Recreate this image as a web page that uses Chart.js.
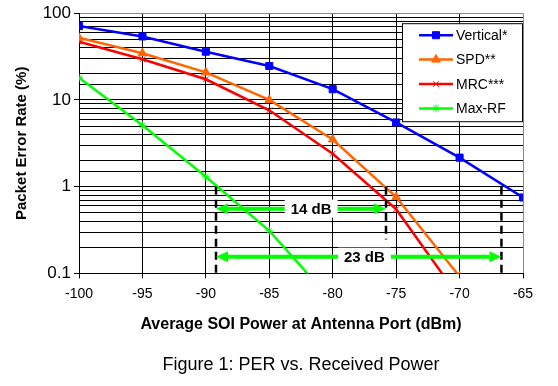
<!DOCTYPE html>
<html>
<head>
<meta charset="utf-8">
<script src="https://cdn.jsdelivr.net/npm/chart.js@4"></script>
<style>
  html, body { margin: 0; padding: 0; background: #fff; }
  #wrap { width: 558px; height: 386px; }
</style>
</head>
<body>
<div id="wrap"><canvas id="perChart" width="558" height="386"></canvas></div>
<script>
// x values (dBm) and PER (%) per receiver type
const powerDbm = [-100, -95, -90, -85, -80, -75, -70, -65];
const verticalPer = [71, 54, 36, 24.6, 13.3, 5.5, 2.16, 0.75];
const spdPer = [52, 34.5, 20.8, 10, 3.5, 0.76, 0.092, null];
const mrcPer = [46.8, 29.4, 17.3, 7.6, 2.4, 0.55, 0.052, null];
const maxRfPer = [18, 5.1, 1.3, 0.31, 0.047, null, null, null];

const seriesNames = ['Vertical*', 'SPD**', 'MRC***', 'Max-RF'];
const seriesColors = ['#0000ff', '#ff6600', '#ff0000', '#00ff00'];
const seriesMarkers = ['rect', 'triangle', 'crossRot', 'star'];
const markerRadius = [5, 5, 4, 4];

// dashed markers + gain arrows
const markerDbm = [-89.2, -75.8, -66.7];
const markerTop = [1, 1, 1];
const markerBottom = [0.1, 0.246, 0.1];
const gapLabels = ['14 dB', '23 dB'];
const gapFrom = [-89.2, -89.2];
const gapTo = [-75.8, -66.7];
const gapLevel = [0.557, 0.156];
const gapLabelAt = [-81.7, -77.5];

const FONT = 'Arial, "Liberation Sans", sans-serif';

function toPoints(values) {
  return powerDbm.map((x, i) => ({ x: x, y: values[i] })).filter(p => p.y !== null);
}

const allSeries = [verticalPer, spdPer, mrcPer, maxRfPer];

const datasets = allSeries.map((vals, idx) => ({
  label: seriesNames[idx],
  data: toPoints(vals),
  borderColor: seriesColors[idx],
  backgroundColor: seriesColors[idx],
  borderWidth: 2.5,
  pointStyle: seriesMarkers[idx],
  pointRadius: markerRadius[idx],
  pointBorderWidth: 1,
  tension: 0,
  fill: false
}));

function isDecade(v) {
  const l = Math.log10(v);
  return Math.abs(l - Math.round(l)) < 1e-6;
}

// --- dashed lines, arrows, labels ---
const gainMarks = {
  id: 'gainMarks',
  afterDatasetsDraw(chart) {
    const ctx = chart.ctx;
    const xs = chart.scales.x, ys = chart.scales.y;
    ctx.save();
    ctx.strokeStyle = '#000';
    ctx.lineWidth = 2.5;
    ctx.setLineDash([8, 5]);
    markerDbm.forEach((d, i) => {
      ctx.beginPath();
      ctx.moveTo(xs.getPixelForValue(d), ys.getPixelForValue(markerTop[i]));
      ctx.lineTo(xs.getPixelForValue(d), ys.getPixelForValue(markerBottom[i]));
      ctx.stroke();
    });
    ctx.setLineDash([]);

    gapLabels.forEach((label, i) => {
      const x0 = xs.getPixelForValue(gapFrom[i]);
      const x1 = xs.getPixelForValue(gapTo[i]);
      const y = ys.getPixelForValue(gapLevel[i]);
      const head = 12, half = 5.5;
      ctx.strokeStyle = '#00ff00';
      ctx.fillStyle = '#00ff00';
      ctx.lineWidth = 4;
      ctx.beginPath();
      ctx.moveTo(x0 + head, y);
      ctx.lineTo(x1 - head, y);
      ctx.stroke();
      ctx.beginPath();
      ctx.moveTo(x0, y); ctx.lineTo(x0 + head, y - half); ctx.lineTo(x0 + head, y + half);
      ctx.closePath(); ctx.fill();
      ctx.beginPath();
      ctx.moveTo(x1, y); ctx.lineTo(x1 - head, y - half); ctx.lineTo(x1 - head, y + half);
      ctx.closePath(); ctx.fill();

      ctx.font = 'bold 15px ' + FONT;
      const cx = xs.getPixelForValue(gapLabelAt[i]);
      const w = ctx.measureText(label).width + 12;
      ctx.fillStyle = '#fff';
      ctx.fillRect(cx - w / 2, y - 9, w, 18);
      ctx.fillStyle = '#000';
      ctx.textAlign = 'center';
      ctx.textBaseline = 'middle';
      ctx.fillText(label, cx, y + 1);
    });
    ctx.restore();
  },
  // --- boxed legend in the top right corner ---
  afterDraw(chart) {
    const ctx = chart.ctx;
    const area = chart.chartArea;
    const right = area.right, left = right - 121;
    const top = area.top + 10, h = 99;
    ctx.save();
    ctx.fillStyle = '#fff';
    ctx.fillRect(left, top, right - left, h);
    ctx.strokeStyle = '#000';
    ctx.lineWidth = 1;
    ctx.strokeRect(left + 0.5, top + 0.5, right - left - 1, h - 1);
    chart.data.datasets.forEach((ds, i) => {
      const y = top + 12 + i * 24.4;
      ctx.strokeStyle = ds.borderColor;
      ctx.fillStyle = ds.backgroundColor;
      ctx.lineWidth = 2.5;
      ctx.beginPath();
      ctx.moveTo(left + 17, y);
      ctx.lineTo(left + 51, y);
      ctx.stroke();
      ctx.lineWidth = 1;
      Chart.helpers.drawPoint(ctx, {
        pointStyle: ds.pointStyle, radius: ds.pointRadius, rotation: 0, borderWidth: 1
      }, left + 34, y);
      ctx.fillStyle = '#000';
      ctx.font = '14px ' + FONT;
      ctx.textAlign = 'left';
      ctx.textBaseline = 'middle';
      ctx.fillText(ds.label, left + 54, y + 1);
    });
    ctx.restore();
  }
};

new Chart(document.getElementById('perChart'), {
  type: 'line',
  data: { datasets: datasets },
  plugins: [gainMarks],
  options: {
    responsive: false,
    animation: false,
    layout: { padding: { left: 0, top: 13, right: 35, bottom: 0 } },
    plugins: {
      legend: { display: false },
      tooltip: { enabled: false },
      title: {
        display: true,
        position: 'bottom',
        fullSize: false,
        text: 'Figure 1: PER vs. Received Power',
        color: '#000',
        font: { family: FONT, size: 18, weight: 'normal', lineHeight: 1.2 },
        padding: { top: 11, bottom: 10 }
      }
    },
    scales: {
      x: {
        type: 'linear',
        min: -100,
        max: -65,
        afterFit: s => { s.height = 70; },
        ticks: { stepSize: 5, color: '#000', padding: 7, font: { family: FONT, size: 14 } },
        grid: {
          color: c => (c.tick && c.tick.value === -65) ? '#888' : '#000',
          tickColor: '#000',
          tickLength: 5,
          lineWidth: 1
        },
        border: { color: '#000', width: 1 },
        title: {
          display: true,
          text: 'Average SOI Power at Antenna Port (dBm)',
          color: '#000',
          font: { family: FONT, size: 16, weight: 'bold' },
          padding: { top: 0, bottom: 9 }
        }
      },
      y: {
        type: 'logarithmic',
        min: 0.1,
        max: 100,
        afterFit: s => { s.width = 79; },
        ticks: {
          autoSkip: false,
          color: '#000',
          padding: 3,
          font: { family: FONT, size: 17 },
          callback: v => isDecade(v) ? (v >= 1 ? String(Math.round(v)) : '0.1') : ''
        },
        grid: {
          color: c => (c.tick && c.tick.value === 100) ? '#888' : '#000',
          tickColor: c => (c.tick && isDecade(c.tick.value)) ? '#000' : 'rgba(0,0,0,0)',
          tickLength: 5,
          lineWidth: 1
        },
        border: { color: '#000', width: 1 },
        title: {
          display: true,
          text: 'Packet Error Rate (%)',
          color: '#000',
          font: { family: FONT, size: 15, weight: 'bold' },
          padding: { top: 13, bottom: 0 }
        }
      }
    }
  }
});
</script>
</body>
</html>
